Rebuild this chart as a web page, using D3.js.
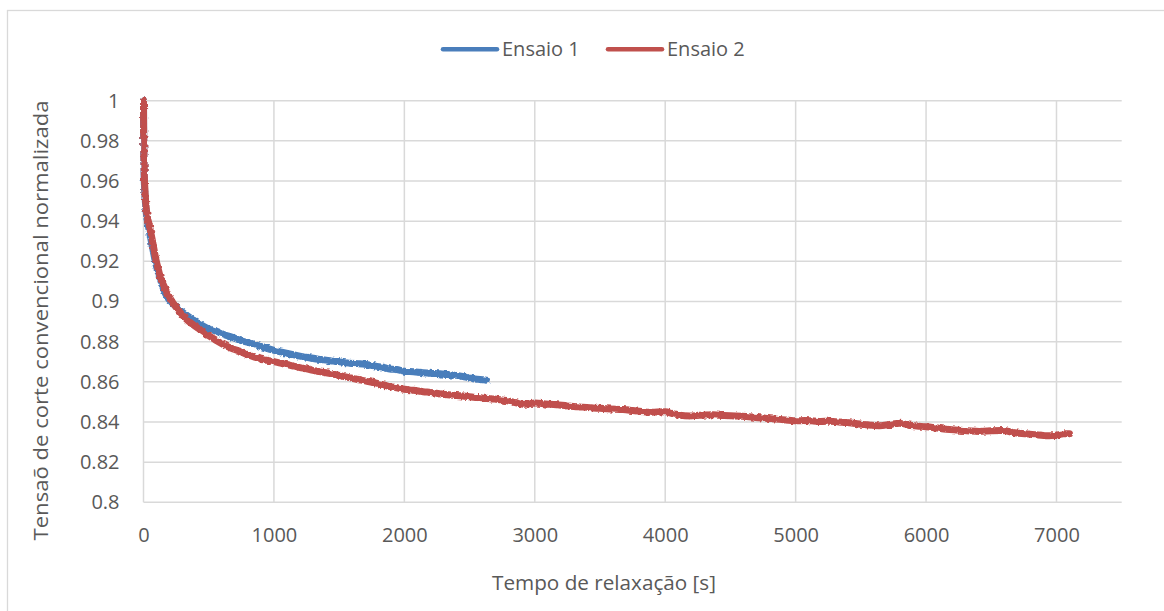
<!DOCTYPE html>
<html>
<head>
<meta charset="utf-8">
<script src="https://cdn.jsdelivr.net/npm/d3@7/dist/d3.min.js"></script>
<style>
  html, body { margin: 0; padding: 0; background: #fff; }
  svg { display: block; }
  text { font-family: "Open Sans", "Liberation Sans", sans-serif; fill: #595959; }
</style>
</head>
<body>
<svg id="chart" width="1164" height="611"></svg>
<script>
// Relaxation time [s]
const ensaio1Time = [0, 1, 3, 6, 10, 15, 20, 30, 45, 60, 75, 90, 110, 130, 155, 180, 210, 240, 270, 305,
  340, 380, 433, 480, 520, 561, 620, 688, 750, 816, 880, 940, 995, 1060, 1130, 1199, 1270, 1340, 1400, 1455,
  1520, 1580, 1650, 1710, 1780, 1850, 1889, 1940, 2000, 2070, 2144, 2210, 2272, 2340, 2400, 2460, 2527, 2580, 2630];
// Normalised conventional shear stress, test 1
const ensaio1Value = [1.000, 0.985, 0.970, 0.960, 0.954, 0.949, 0.945, 0.940, 0.935, 0.930, 0.925, 0.920, 0.915, 0.911, 0.906, 0.9025, 0.900, 0.898, 0.8962, 0.8944,
  0.8928, 0.8908, 0.8886, 0.8870, 0.8860, 0.8852, 0.8835, 0.8820, 0.8805, 0.8794, 0.8780, 0.8768, 0.8758, 0.8748, 0.8738, 0.8728, 0.8720, 0.8712, 0.8708, 0.8703,
  0.8698, 0.8692, 0.8690, 0.8686, 0.8678, 0.8670, 0.8664, 0.8661, 0.8653, 0.8650, 0.8645, 0.8642, 0.8640, 0.8635, 0.8632, 0.8625, 0.8615, 0.8612, 0.8608];

const ensaio2Time = [0, 1, 3, 6, 10, 15, 20, 30, 45, 60, 75, 90, 110, 130, 155, 180, 210, 240, 270, 305,
  340, 380, 433, 480, 520, 561, 600, 640, 688, 740, 780, 816, 860, 900, 950, 995, 1050, 1100, 1150, 1199,
  1250, 1300, 1350, 1400, 1455, 1500, 1550, 1600, 1634, 1700, 1750, 1800, 1850, 1889, 1950, 2000, 2070, 2144, 2200, 2270,
  2330, 2400, 2470, 2530, 2600, 2655, 2720, 2783, 2850, 2911, 2960, 3000, 3080, 3166, 3250, 3330, 3422, 3500, 3580, 3677,
  3750, 3820, 3881, 3940, 4000, 4060, 4111, 4188, 4260, 4367, 4450, 4540, 4622, 4700, 4780, 4878, 5000, 5060, 5133, 5200,
  5261, 5330, 5389, 5460, 5540, 5644, 5720, 5797, 5860, 5930, 6000, 6080, 6155, 6230, 6320, 6410, 6500, 6589, 6680, 6793,
  6860, 6947, 7020, 7060, 7100];
// Normalised conventional shear stress, test 2
const ensaio2Value = [1.000, 0.988, 0.974, 0.964, 0.957, 0.951, 0.947, 0.942, 0.938, 0.933, 0.928, 0.9225, 0.917, 0.912, 0.908, 0.9045, 0.901, 0.898, 0.8955, 0.8927,
  0.8905, 0.8885, 0.8860, 0.8838, 0.8822, 0.8805, 0.8790, 0.8777, 0.8763, 0.8752, 0.8740, 0.8731, 0.8722, 0.8713, 0.8707, 0.8701, 0.8693, 0.8686, 0.8678, 0.8671,
  0.8665, 0.8657, 0.8651, 0.8645, 0.8638, 0.8632, 0.8624, 0.8618, 0.8613, 0.8605, 0.8598, 0.8591, 0.8583, 0.8576, 0.8570, 0.8563, 0.8558, 0.8551, 0.8547, 0.8541,
  0.8536, 0.8532, 0.8528, 0.8523, 0.8520, 0.8516, 0.8512, 0.8507, 0.8497, 0.8488, 0.8491, 0.8494, 0.8490, 0.8486, 0.8480, 0.8476, 0.8471, 0.8468, 0.8465, 0.8462,
  0.8457, 0.8452, 0.8448, 0.8450, 0.8451, 0.8441, 0.8434, 0.8430, 0.8433, 0.8436, 0.8432, 0.8430, 0.8427, 0.8422, 0.8418, 0.8413, 0.8406, 0.8407, 0.8405, 0.8403,
  0.8404, 0.8400, 0.8397, 0.8392, 0.8386, 0.8381, 0.8387, 0.8394, 0.8385, 0.8380, 0.8376, 0.8370, 0.8364, 0.8360, 0.8356, 0.8353, 0.8356, 0.8357, 0.8346, 0.8339,
  0.8335, 0.8331, 0.8337, 0.8342, 0.8342];

const seriesNames = ["Ensaio 1", "Ensaio 2"];
const seriesColors = ["#4a7ebb", "#c0504d"];
const xTicks = [0, 1000, 2000, 3000, 4000, 5000, 6000, 7000];
const yTicks = [0.8, 0.82, 0.84, 0.86, 0.88, 0.9, 0.92, 0.94, 0.96, 0.98, 1];
const xTitle = "Tempo de relaxação [s]";
const yTitle = "Tensaõ de corte convencional normalizada";

const svg = d3.select("#chart");

// slight roughness on the measured traces
const defs = svg.append("defs");
const rough = defs.append("filter").attr("id", "rough")
  .attr("filterUnits", "userSpaceOnUse")
  .attr("x", 0).attr("y", 0).attr("width", 1164).attr("height", 611);
rough.append("feTurbulence").attr("type", "fractalNoise")
  .attr("baseFrequency", 0.3).attr("numOctaves", 2).attr("seed", 3).attr("result", "noise");
rough.append("feDisplacementMap").attr("in", "SourceGraphic").attr("in2", "noise")
  .attr("scale", 3.5).attr("xChannelSelector", "R").attr("yChannelSelector", "G");

// outer chart frame
svg.append("rect")
  .attr("x", 7.5).attr("y", 10.5)
  .attr("width", 1300).attr("height", 700)
  .attr("fill", "#fff").attr("stroke", "#d9d9d9").attr("stroke-width", 1.3);

const plot = { left: 143.5, right: 1121.7, top: 100.7, bottom: 502.3 };
const x = d3.scaleLinear().domain([0, 7500]).range([plot.left, plot.right]);
const y = d3.scaleLinear().domain([0.8, 1]).range([plot.bottom, plot.top]);

// gridlines
const grid = svg.append("g").attr("stroke", "#d9d9d9").attr("stroke-width", 1.5);
grid.selectAll("line.h").data(yTicks).join("line")
  .attr("x1", plot.left).attr("x2", plot.right)
  .attr("y1", d => y(d)).attr("y2", d => y(d));
grid.selectAll("line.v").data(xTicks).join("line")
  .attr("x1", d => x(d)).attr("x2", d => x(d))
  .attr("y1", plot.top).attr("y2", plot.bottom);

// axes (labels only, lines come from the grid)
const xAxis = svg.append("g")
  .attr("transform", `translate(0,${plot.bottom})`)
  .call(d3.axisBottom(x).tickValues(xTicks).tickFormat(d3.format("d")).tickSize(0).tickPadding(26));
const yAxis = svg.append("g")
  .attr("transform", `translate(${plot.left},0)`)
  .call(d3.axisLeft(y).tickValues(yTicks).tickFormat(d => String(+d.toFixed(2))).tickSize(0).tickPadding(24));
[xAxis, yAxis].forEach(a => {
  a.select(".domain").remove();
  a.selectAll("text")
    .attr("fill", "#595959")
    .style("font-family", "'Open Sans', 'Liberation Sans', sans-serif")
    .style("font-size", "20px");
});

// data lines
const series = [
  ensaio1Time.map((t, i) => [t, ensaio1Value[i]]),
  ensaio2Time.map((t, i) => [t, ensaio2Value[i]])
];
const line = d3.line().x(d => x(d[0])).y(d => y(d[1])).curve(d3.curveMonotoneX);
svg.append("g").attr("filter", "url(#rough)")
  .selectAll("path").data(series).join("path")
  .attr("d", line)
  .attr("fill", "none")
  .attr("stroke", (d, i) => seriesColors[i])
  .attr("stroke-width", 7)
  .attr("stroke-linejoin", "round")
  .attr("stroke-linecap", "round");

// axis titles
svg.append("text")
  .attr("x", 604).attr("y", 590)
  .attr("text-anchor", "middle")
  .attr("textLength", 224).attr("lengthAdjust", "spacingAndGlyphs")
  .style("font-size", "20px")
  .text(xTitle);
svg.append("text")
  .attr("transform", `translate(48,320.5) rotate(-90)`)
  .attr("text-anchor", "middle")
  .attr("textLength", 440).attr("lengthAdjust", "spacingAndGlyphs")
  .style("font-size", "20.5px")
  .text(yTitle);

// legend
const legend = svg.append("g");
const legendX = [443, 608];
seriesNames.forEach((name, i) => {
  legend.append("line")
    .attr("x1", legendX[i]).attr("x2", legendX[i] + 54)
    .attr("y1", 49.3).attr("y2", 49.3)
    .attr("stroke", seriesColors[i]).attr("stroke-width", 4.5)
    .attr("stroke-linecap", "round");
  legend.append("text")
    .attr("x", legendX[i] + 59).attr("y", 49.3)
    .attr("dy", "0.35em")
    .style("font-size", "20px")
    .text(name);
});
</script>
</body>
</html>
